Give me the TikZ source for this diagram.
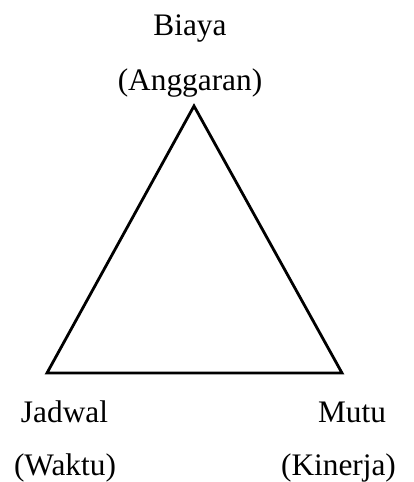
\documentclass[tikz,border=0pt]{standalone}
\usepackage{fontspec}
\setmainfont{Liberation Serif}
\begin{document}
\begin{tikzpicture}[x=0.75pt,y=-0.75pt,
  caption/.style={anchor=base,inner sep=0pt,font=\fontsize{23.5}{28}\selectfont}]
  \useasboundingbox (0,0) rectangle (414,482);
  % corners of the triangle
  \coordinate (apex) at (194,106);
  \coordinate (lowleft) at (47,373);
  \coordinate (lowright) at (342,373);
  \draw[line width=2.1pt,line join=miter] (apex) -- (lowleft) -- (lowright) -- cycle;
  % top corner
  \node[caption] (biaya) at (190,35) {Biaya};
  \node[caption] (anggaran) at (190,90.5) {(Anggaran)};
  % bottom left corner
  \node[caption] (jadwal) at (64.5,422.5) {Jadwal};
  \node[caption] (waktu) at (65,475) {(Waktu)};
  % bottom right corner
  \node[caption] (mutu) at (352,422.5) {Mutu};
  \node[caption] (kinerja) at (338.5,475) {(Kinerja)};
\end{tikzpicture}
\end{document}
